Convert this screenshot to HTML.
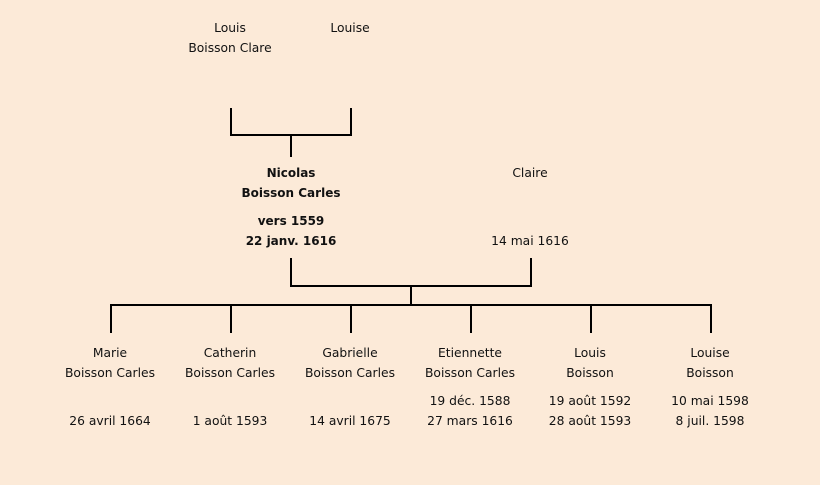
<!DOCTYPE html>
<html><head><meta charset="utf-8"><style>
body{margin:0;width:820px;height:485px;background:#fcead8;position:relative;overflow:hidden;font-family:"DejaVu Sans",sans-serif;font-size:12.3px;color:#111}
.t{position:absolute;width:160px;text-align:center;line-height:20px;transform:translateX(-80px)}
.b{font-weight:bold;font-size:12px}
svg{position:absolute;left:0;top:0}
</style></head><body>
<svg width="820" height="485"><g stroke="#000" stroke-width="2" fill="none">
<path d="M231 108V135H351V108M291 135V157"/>
<path d="M291 258V286H531V258M411 286V305M111 333V305H711V333M231 305V333M351 305V333M471 305V333M591 305V333"/>
</g></svg>
<div class="t" style="left:230px;top:18px">Louis<br>Boisson Clare</div>
<div class="t" style="left:350px;top:18px">Louise</div>
<div class="t b" style="left:291px;top:163px">Nicolas<br>Boisson Carles</div>
<div class="t b" style="left:291px;top:211px">vers 1559<br>22 janv. 1616</div>
<div class="t" style="left:530px;top:163px">Claire</div>
<div class="t" style="left:530px;top:231px">14 mai 1616</div>
<div class="t" style="left:110px;top:343px">Marie<br>Boisson Carles</div>
<div class="t" style="left:110px;top:411px">26 avril 1664</div>
<div class="t" style="left:230px;top:343px">Catherin<br>Boisson Carles</div>
<div class="t" style="left:230px;top:411px">1 août 1593</div>
<div class="t" style="left:350px;top:343px">Gabrielle<br>Boisson Carles</div>
<div class="t" style="left:350px;top:411px">14 avril 1675</div>
<div class="t" style="left:470px;top:343px">Etiennette<br>Boisson Carles</div>
<div class="t" style="left:470px;top:391px">19 déc. 1588<br>27 mars 1616</div>
<div class="t" style="left:590px;top:343px">Louis<br>Boisson</div>
<div class="t" style="left:590px;top:391px">19 août 1592<br>28 août 1593</div>
<div class="t" style="left:710px;top:343px">Louise<br>Boisson</div>
<div class="t" style="left:710px;top:391px">10 mai 1598<br>8 juil. 1598</div>
</body></html>
